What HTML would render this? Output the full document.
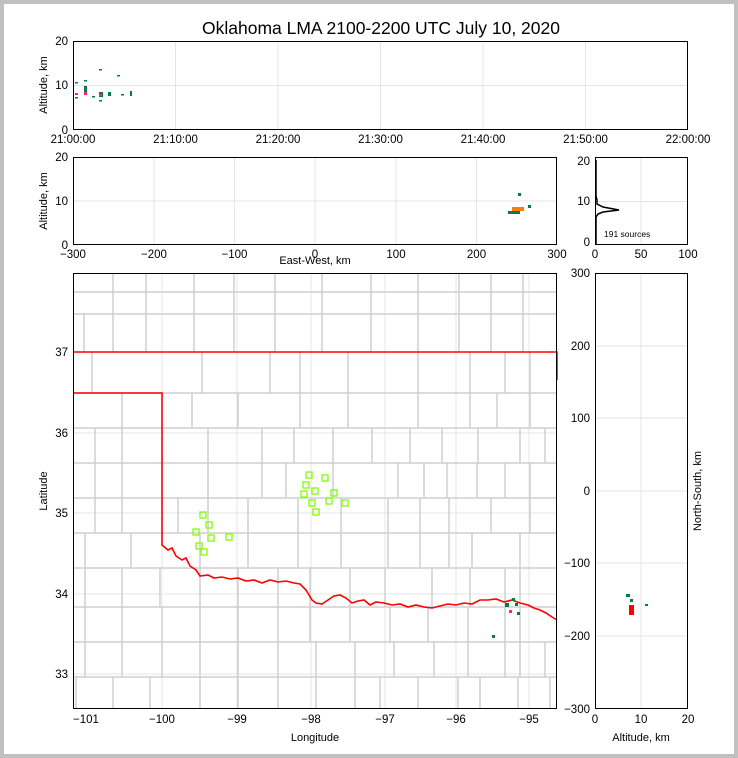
<!DOCTYPE html><html><head><style>body{margin:0;background:#fff}svg{display:block}text{font-family:"Liberation Sans",sans-serif;fill:#000}</style></head><body>
<svg width="738" height="758" viewBox="0 0 738 758" xmlns="http://www.w3.org/2000/svg">
<rect x="2" y="2" width="734" height="754" fill="#fff" stroke="#c0c0c0" stroke-width="4"/>
<text x="381" y="34" font-size="17.5" text-anchor="middle">Oklahoma LMA 2100-2200 UTC July 10, 2020</text>
<g stroke="#e6e6e6" stroke-width="1">
<path d="M175.5 41V130M278 41V130M380.5 41V130M483 41V130M585.5 41V130M73 85.5H688"/>
<path d="M154 157V245M234.5 157V245M315 157V245M396 157V245M476.5 157V245M73 201H557"/>
<path d="M641 157V245M595 201.5H688"/>
<path d="M162 273V709M237 273V709M311 273V709M385 273V709M456 273V709M529 273V709M73 352H557M73 433H557M73 513H557M73 594H557M73 674H557"/>
<path d="M641 273V709M595 346H688M595 418H688M595 491H688M595 563H688M595 636H688"/>
</g>
<g font-size="11.5" text-anchor="middle">
<text x="73" y="143">21:00:00</text><text x="175.5" y="143">21:10:00</text><text x="278" y="143">21:20:00</text><text x="380.5" y="143">21:30:00</text><text x="483" y="143">21:40:00</text><text x="585.5" y="143">21:50:00</text><text x="688" y="143">22:00:00</text>
<text x="73" y="258">−300</text><text x="154" y="258">−200</text><text x="234.5" y="258">−100</text><text x="315" y="258">0</text><text x="396" y="258">100</text><text x="476.5" y="258">200</text><text x="557" y="258">300</text>
<text x="595" y="258">0</text><text x="641" y="258">50</text><text x="688" y="258">100</text>
<text x="86" y="723">−101</text><text x="162" y="723">−100</text><text x="237" y="723">−99</text><text x="311" y="723">−98</text><text x="385" y="723">−97</text><text x="456" y="723">−96</text><text x="529" y="723">−95</text>
<text x="595" y="723">0</text><text x="641" y="723">10</text><text x="688" y="723">20</text>
</g>
<g font-size="11.5" text-anchor="end">
<text x="68" y="45">20</text><text x="68" y="89">10</text><text x="68" y="134">0</text>
<text x="68" y="161">20</text><text x="68" y="205">10</text><text x="68" y="249">0</text>
<text x="590" y="165">20</text><text x="590" y="205">10</text><text x="590" y="246">0</text>
<text x="68" y="356">37</text><text x="68" y="437">36</text><text x="68" y="517">35</text><text x="68" y="598">34</text><text x="68" y="678">33</text>
<text x="590" y="277">300</text><text x="590" y="350">200</text><text x="590" y="422">100</text><text x="590" y="495">0</text><text x="590" y="567">−100</text><text x="590" y="640">−200</text><text x="590" y="713">−300</text>
</g>
<g font-size="11">
<text transform="translate(47 85) rotate(-90)" text-anchor="middle">Altitude, km</text>
<text transform="translate(47 201) rotate(-90)" text-anchor="middle">Altitude, km</text>
<text transform="translate(47 491) rotate(-90)" text-anchor="middle">Latitude</text>
<text transform="translate(701 491) rotate(-90)" text-anchor="middle">North-South, km</text>
<text x="315" y="264" text-anchor="middle">East-West, km</text>
<text x="315" y="741" text-anchor="middle">Longitude</text>
<text x="641" y="741" text-anchor="middle">Altitude, km</text>
<text x="604" y="237" font-size="8.5">191 sources</text>
</g>
<path fill="none" stroke="#cfcfcf" stroke-width="1.5" d="M73 292H557M73 314H557M73 393H557M73 428H557M73 463H557M73 498H557M73 533H557M73 568H557M73 607H557M73 642H557M73 677H557
M113 273V314M146 273V314M194 273V314M234 273V314M275 273V314M322 273V314M371 273V314M418 273V314M459 273V314M491 273V314M523 273V314
M84 314V352M113 314V352M146 314V352M194 314V352M234 314V352M275 314V352M322 314V352M371 314V352M418 314V352M459 314V352M491 314V352M523 314V352
M92 352V393M202 352V393M270 352V393M300 352V393M348 352V393M418 352V393M470 352V393M505 352V393M530 352V393
M122 393V428M192 393V428M238 393V428M300 393V428M348 393V428M418 393V428M470 393V428M497 393V428M530 393V428
M95 428V463M122 428V463M208 428V463M262 428V463M294 428V463M333 428V463M372 428V463M410 428V463M442 428V463M478 428V463M520 428V463M545 428V463
M95 463V498M122 463V498M208 463V498M262 463V498M286 463V498M333 463V498M398 463V498M424 463V498M447 463V498M477 463V498M505 463V498M530 463V498
M95 498V533M122 498V533M178 498V533M208 498V533M248 498V533M298 498V533M341 498V533M388 498V533M420 498V533M449 498V533M491 498V533M530 498V533
M85 533V568M131 533V568M200 533V568M248 533V568M298 533V568M341 533V568M388 533V568M420 533V568M449 533V568M472 533V568M520 533V568
M85 568V607M122 568V607M160 568V607M200 568V607M238 568V607M278 568V607M310 568V607M350 568V607M385 568V607M432 568V607M470 568V607M505 568V607M520 568V607
M85 607V642M122 607V642M162 607V642M200 607V642M238 607V642M278 607V642M310 607V642M350 607V642M390 607V642M428 607V642M468 607V642M505 607V642M520 607V642
M85 642V677M122 642V677M162 642V677M200 642V677M238 642V677M278 642V677M316 642V677M355 642V677M394 642V677M434 642V677M468 642V677M505 642V677M520 642V677M545 642V677
M76 677V709M113 677V709M150 677V709M200 677V709M238 677V709M278 677V709M316 677V709M355 677V709M380 677V709M418 677V709M458 677V709M480 677V709M518 677V709M550 677V709"/>
<path fill="none" stroke="#f00" stroke-width="1.6" d="M73 352H557V380M73 393H162V545L168 550L172 548L176 556L182 560L186 558L190 566L196 570L200 576L208 575L214 578L222 577L230 579L238 578L246 581L254 580L262 583L270 580L278 582L286 581L294 583L300 584L306 590L312 600L316 603L322 604L328 600L334 596L340 595L346 598L352 603L358 601L364 600L370 605L376 602L384 603L392 605L400 604L408 607L416 605L424 607L432 608L440 606L448 604L456 605L464 603L472 604L480 600L488 600L496 599L504 602L512 600L520 603L528 605L534 608L540 610L546 613L552 617L557 620"/>
<g fill="none" stroke="#7fff00" stroke-width="1.3">
<rect x="306" y="472" width="6" height="6"/><rect x="322" y="475" width="6" height="6"/><rect x="303" y="482" width="6" height="6"/><rect x="312" y="488" width="6" height="6"/><rect x="331" y="490" width="6" height="6"/><rect x="301" y="491" width="6" height="6"/><rect x="309" y="500" width="6" height="6"/><rect x="326" y="498" width="6" height="6"/><rect x="342" y="500" width="6" height="6"/><rect x="313" y="509" width="6" height="6"/><rect x="200" y="512" width="6" height="6"/><rect x="206" y="522" width="6" height="6"/><rect x="193" y="529" width="6" height="6"/><rect x="208" y="535" width="6" height="6"/><rect x="226" y="534" width="6" height="6"/><rect x="196" y="543" width="6" height="6"/><rect x="201" y="549" width="6" height="6"/>
</g>
<g fill="#008040">
<rect x="75" y="82" width="3" height="1.5"/><rect x="84" y="80" width="3" height="1.5"/><rect x="99" y="69" width="3" height="1.5"/><rect x="117" y="75" width="3" height="1.5"/><rect x="99" y="92" width="4" height="5"/><rect x="108" y="92" width="3" height="4"/><rect x="121" y="94" width="3" height="1.5"/><rect x="130" y="91" width="2" height="5"/><rect x="84" y="86" width="3" height="6"/><rect x="92" y="96" width="3" height="1.5"/><rect x="99" y="100" width="3" height="1.5"/><rect x="75" y="97" width="3" height="1.5"/>
<rect x="508" y="211" width="12" height="3"/><rect x="518" y="193" width="3" height="3"/><rect x="528" y="205" width="3" height="3"/>
<rect x="505" y="603" width="4" height="4"/><rect x="515" y="603" width="3" height="3"/><rect x="517" y="612" width="3" height="3"/><rect x="492" y="635" width="3" height="3"/><rect x="512" y="598" width="3" height="3"/>
<rect x="630" y="599" width="3" height="3"/><rect x="645" y="604" width="3" height="2"/><rect x="626" y="594" width="4" height="3"/>
</g>
<g fill="#ff2080">
<rect x="75" y="93" width="3" height="2"/><rect x="84" y="92" width="3" height="3"/><rect x="99" y="94" width="3" height="2"/>
<rect x="509" y="610" width="3" height="3"/>
</g>
<g fill="#ff7f00"><rect x="512" y="207" width="12" height="4"/></g>
<g fill="#f00"><rect x="629" y="605" width="5" height="10"/></g>
<path fill="none" stroke="#000" stroke-width="1.5" d="M596 244L596 217L598 214L603 212L619 210L603 207L597 204L597 200L596 196L596 160"/>
<g fill="none" stroke="#000" stroke-width="1">
<rect x="73.5" y="41.5" width="614" height="88"/>
<rect x="73.5" y="157.5" width="483" height="87"/>
<rect x="595.5" y="157.5" width="92" height="87"/>
<rect x="73.5" y="273.5" width="483" height="435"/>
<rect x="595.5" y="273.5" width="92" height="435"/>
</g>
</svg></body></html>
